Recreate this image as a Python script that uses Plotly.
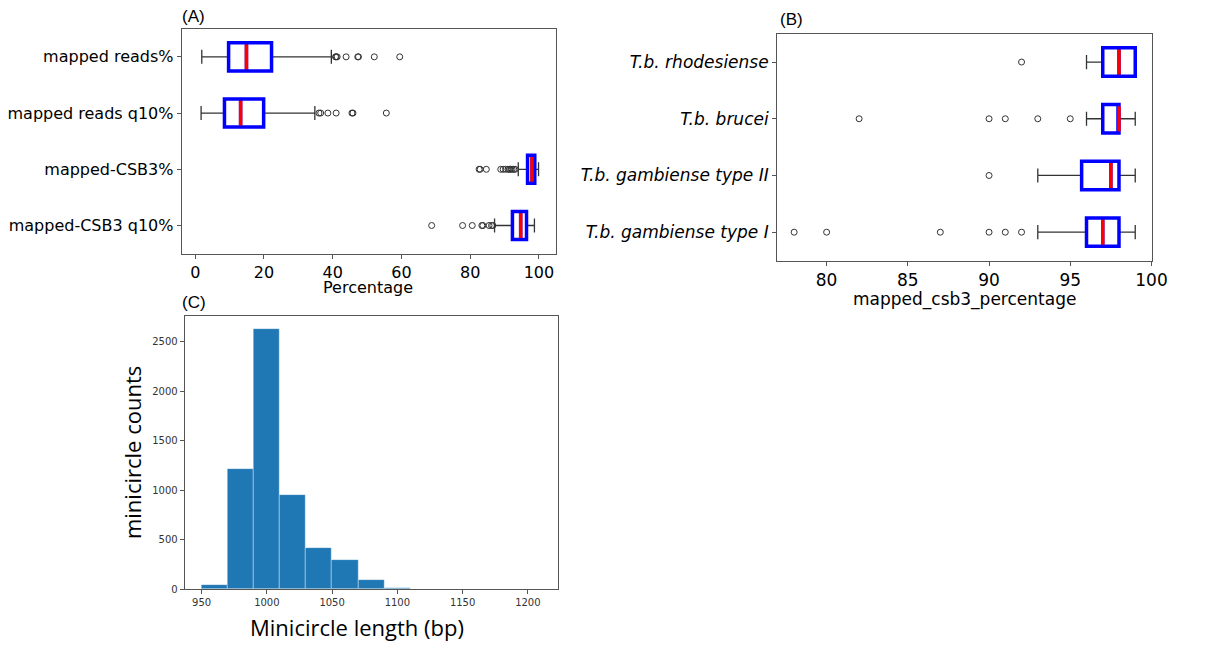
import plotly.graph_objects as go

# ---------------- Data ----------------
# Panel A
a_labels = ["mapped reads%", "mapped reads q10%", "mapped-CSB3%", "mapped-CSB3 q10%"]
a_low = [1.9, 1.7, 94.0, 87.1]
a_q1 = [9.7, 8.5, 96.7, 92.3]
a_med = [14.9, 13.2, 98.0, 94.7]
a_q3 = [22.2, 19.9, 98.8, 96.4]
a_high = [39.6, 34.8, 99.9, 98.7]
a_outliers = [
    [40.8, 41.0, 41.3, 43.9, 47.3, 47.5, 52.1, 59.5],
    [36.0, 36.5, 38.6, 41.0, 45.6, 45.9, 55.6],
    [82.6, 82.9, 84.7, 88.9, 89.6, 90.3, 91.0, 91.4, 91.8, 92.2, 92.7, 93.1],
    [68.8, 77.8, 80.6, 83.4, 83.7, 85.5, 86.2, 86.6],
]
a_xticks = [0, 20, 40, 60, 80, 100]

# Panel B
b_labels = ["T.b. rhodesiense", "T.b. brucei", "T.b. gambiense type II", "T.b. gambiense type I"]
b_low = [96, 96, 93, 93]
b_q1 = [97, 97, 95.7, 96]
b_med = [98, 98, 97.5, 97]
b_q3 = [99, 98, 98, 98]
b_high = [99, 99, 99, 99]
b_outliers = [
    [92],
    [82, 90, 91, 93, 95],
    [90],
    [78, 80, 87, 90, 91, 92],
]
b_xticks = [80, 85, 90, 95, 100]

# Panel C (histogram, bin width 20)
c_edges = [950, 970, 990, 1010, 1030, 1050, 1070, 1090, 1110, 1130, 1150, 1170, 1190, 1210]
c_counts = [43, 1213, 2625, 954, 416, 296, 100, 13, 3, 2, 1, 1, 1]
c_xticks = [950, 1000, 1050, 1100, 1150, 1200]
c_yticks = [0, 500, 1000, 1500, 2000, 2500]

FONT = "DejaVu Sans"
BLUE = "#0000ff"
RED = "#ff0000"
WHISK = "#333333"

fig = go.Figure()


def add_boxes(xa, ya, low, q1, med, q3, high, outliers):
    for i in range(len(q1)):
        fig.add_trace(go.Box(
            orientation="h", y=[i], q1=[q1[i]], median=[med[i]], q3=[q3[i]],
            lowerfence=[low[i]], upperfence=[high[i]], width=0.5, whiskerwidth=0.5,
            boxpoints=False, line=dict(color=WHISK, width=1.3), fillcolor="rgba(0,0,0,0)",
            xaxis=xa, yaxis=ya, showlegend=False, hoverinfo="skip"))
        fig.add_trace(go.Box(
            orientation="h", y=[i], q1=[q1[i]], median=[med[i]], q3=[q3[i]],
            lowerfence=[q1[i]], upperfence=[q3[i]], width=0.5, whiskerwidth=0,
            boxpoints=False, line=dict(color=BLUE, width=3.5), fillcolor="white",
            xaxis=xa, yaxis=ya, showlegend=False, hoverinfo="skip"))
        fig.add_trace(go.Scatter(
            x=[med[i], med[i]], y=[i - 0.22, i + 0.22], mode="lines",
            line=dict(color=RED, width=3.5), xaxis=xa, yaxis=ya,
            showlegend=False, hoverinfo="skip"))
        fig.add_trace(go.Scatter(
            x=outliers[i], y=[i] * len(outliers[i]), mode="markers",
            marker=dict(symbol="circle-open", size=6, color="#333333", line=dict(width=1)),
            xaxis=xa, yaxis=ya, showlegend=False, hoverinfo="skip"))


add_boxes("x", "y", a_low, a_q1, a_med, a_q3, a_high, a_outliers)
add_boxes("x2", "y2", b_low, b_q1, b_med, b_q3, b_high, b_outliers)

centers = [(c_edges[i] + c_edges[i + 1]) / 2 for i in range(len(c_counts))]
widths = [c_edges[i + 1] - c_edges[i] for i in range(len(c_counts))]
fig.add_trace(go.Bar(
    x=centers, y=c_counts, width=widths,
    marker=dict(color="#1f77b4", line=dict(color="rgba(255,255,255,0.45)", width=0.8)),
    xaxis="x3", yaxis="y3", showlegend=False, hoverinfo="skip"))

W, H = 1190, 645
BS = 18  # shift of panel B to keep its last tick label well inside the page


def xd(left, right):
    return [left / W, right / W]


def yd(top, bottom):
    return [1 - bottom / H, 1 - top / H]


axis_common = dict(showgrid=False, zeroline=False, showline=True, linecolor="#555555",
                   linewidth=1, mirror=True, ticks="outside", ticklen=4, tickcolor="#555555")

fig.update_layout(
    width=W, height=H, margin=dict(l=0, r=0, t=0, b=0),
    paper_bgcolor="white", plot_bgcolor="white", boxmode="overlay", bargap=0,
    font=dict(family=FONT, color="black"),
    xaxis=dict(domain=xd(184, 563), anchor="y", range=[-3.95, 104.95],
               tickvals=a_xticks, tickfont=dict(size=16), **axis_common),
    yaxis=dict(domain=yd(29, 256), anchor="x", range=[3.5, -0.5],
               tickvals=list(range(4)), ticktext=a_labels, tickfont=dict(size=16), **axis_common),
    xaxis2=dict(domain=xd(805 - BS, 1185 - BS), anchor="y2", range=[76.95, 100.05],
                tickvals=b_xticks, tickfont=dict(size=17), **axis_common),
    yaxis2=dict(domain=yd(34, 263), anchor="x2", range=[3.5, -0.5],
                tickvals=list(range(4)), ticktext=["<i>%s</i>" % t for t in b_labels],
                tickfont=dict(size=17), **axis_common),
    xaxis3=dict(domain=xd(187, 565), anchor="y3", range=[937, 1223],
                tickvals=c_xticks, tickfont=dict(size=10, color="#333333"), **axis_common),
    yaxis3=dict(domain=yd(319, 595), anchor="x3", range=[0, 2761],
                tickvals=c_yticks, tickfont=dict(size=10, color="#333333"), **axis_common),
)

ann = [
    dict(text="(A)", x=182, y=17, font=dict(size=17, family="Liberation Sans"), xanchor="left"),
    dict(text="(B)", x=806 - BS, y=20, font=dict(size=17, family="Liberation Sans"), xanchor="left"),
    dict(text="(C)", x=182, y=305, font=dict(size=17, family="Liberation Sans"), xanchor="left"),
    dict(text="Percentage", x=373, y=290, font=dict(size=16)),
    dict(text="mapped_csb3_percentage", x=995 - BS, y=302, font=dict(size=17)),
    dict(text="minicircle counts", x=133, y=457, textangle=-90,
         font=dict(size=22, family="Open Sans")),
    dict(text="Minicircle length (bp)", x=362, y=633, font=dict(size=22, family="Open Sans")),
]
for a in ann:
    a["x"] = a["x"] / W
    a["y"] = 1 - a["y"] / H
    a.update(xref="paper", yref="paper", showarrow=False, yanchor="middle")
    a.setdefault("xanchor", "center")
    fig.add_annotation(**a)

fig.write_html("out.html")
